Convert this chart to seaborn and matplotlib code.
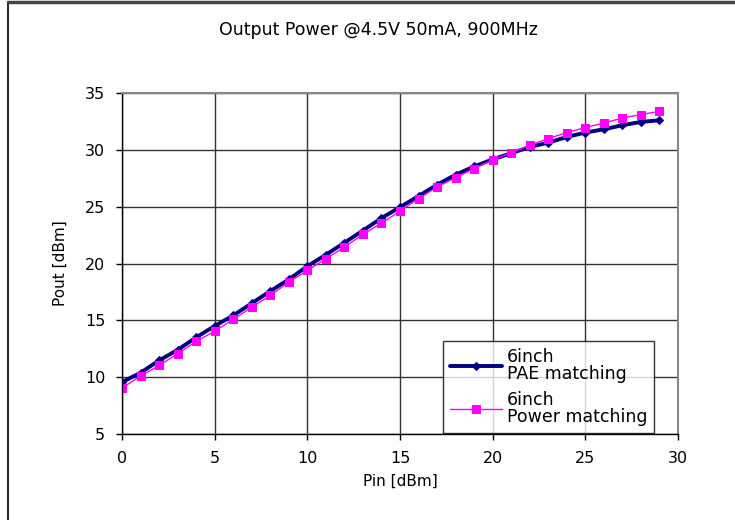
import matplotlib
matplotlib.use("Agg")
import matplotlib.pyplot as plt
import seaborn as sns
import pandas as pd
from matplotlib.lines import Line2D

pin = list(range(30))
pae_matching = [9.56, 10.39, 11.47, 12.40, 13.50, 14.50, 15.43, 16.50, 17.57, 18.60,
                19.76, 20.77, 21.83, 22.90, 23.99, 24.96, 25.93, 26.93, 27.81, 28.54,
                29.16, 29.70, 30.25, 30.63, 31.13, 31.52, 31.81, 32.16, 32.46, 32.60]
power_matching = [9.05, 10.09, 11.03, 12.06, 13.14, 14.05, 15.08, 16.16, 17.19, 18.36,
                  19.39, 20.42, 21.44, 22.56, 23.55, 24.61, 25.70, 26.73, 27.55, 28.35,
                  29.10, 29.76, 30.40, 30.99, 31.52, 31.96, 32.36, 32.80, 33.10, 33.39]
labels = ["6inch\nPAE matching", "6inch\nPower matching"]

df1 = pd.DataFrame({"Pin": pin, "Pout": pae_matching})
df2 = pd.DataFrame({"Pin": pin, "Pout": power_matching})

sns.set_style("white")
plt.rcParams["font.family"] = ["DejaVu Sans"]
plt.rcParams["text.color"] = "black"
plt.rcParams["axes.labelcolor"] = "black"
plt.rcParams["xtick.color"] = "black"
plt.rcParams["ytick.color"] = "black"

fig = plt.figure(figsize=(7.35, 5.2), dpi=100)
ax = fig.add_axes([122/735, 1-434/520, 556/735, 341/520])

sns.lineplot(data=df1, x="Pin", y="Pout", ax=ax, color="#000080", linewidth=2.8,
             marker="D", markersize=4.5, markeredgecolor="#000080", label=labels[0])
sns.lineplot(data=df2, x="Pin", y="Pout", ax=ax, color="#FF00FF", linewidth=1.0,
             marker="s", markersize=6, markeredgecolor="#FF00FF", label=labels[1])

ax.set_xlim(0, 30)
ax.set_ylim(5, 35)
ax.set_xticks(range(0, 31, 5))
ax.set_yticks(range(5, 36, 5))
ax.grid(True, color="#333333", linewidth=1.0)
ax.set_axisbelow(True)
for s in ["left", "bottom"]:
    ax.spines[s].set_color("black")
    ax.spines[s].set_linewidth(1.0)
for s in ["top", "right"]:
    ax.spines[s].set_color("#888888")
    ax.spines[s].set_linewidth(1.5)
ax.tick_params(axis="both", which="both", direction="out", length=4, width=1,
               color="black", labelcolor="black", labelsize=11.5, pad=8,
               bottom=True, left=True)
ax.set_xlabel("Pin [dBm]", fontsize=11, labelpad=6, color="black")
ax.set_ylabel("Pout [dBm]", fontsize=11, labelpad=12, color="black")
fig.text(0.515, 1-30/520, "Output Power @4.5V 50mA, 900MHz", ha="center", va="center",
         fontsize=12.5, color="black")

leg = ax.legend(loc="upper left", bbox_to_anchor=((443-122)/556, (434-341)/341),
                frameon=True, fancybox=False, fontsize=12.5, handlelength=3.0,
                borderpad=0.38, labelspacing=0.45, handletextpad=0.3, borderaxespad=0)
leg.get_frame().set_edgecolor("black")
leg.get_frame().set_linewidth(1.0)
for t in leg.get_texts():
    t.set_color("black")
    t.set_linespacing(0.95)

# figure frame (left and top edges)
fig.add_artist(Line2D([8/735, 8/735], [0, 1-2/520], color="black", linewidth=1.2,
                      transform=fig.transFigure))
fig.add_artist(Line2D([8/735, 1], [1-2/520, 1-2/520], color="#444444", linewidth=2.5,
                      transform=fig.transFigure))

fig.savefig("out.png", dpi=100)
